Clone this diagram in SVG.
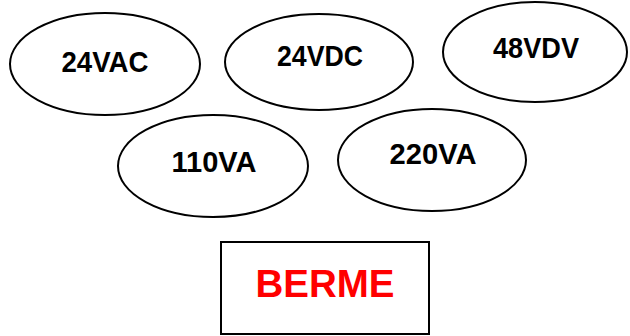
<svg xmlns="http://www.w3.org/2000/svg" width="630" height="336" viewBox="0 0 630 336">
<style>
.n{fill:#fff;stroke:#000;stroke-width:2}
.t{font-family:"Liberation Sans",Arial,sans-serif;font-weight:bold;font-size:30px;fill:#000;text-anchor:middle}
.r{font-family:"Liberation Sans",Arial,sans-serif;font-weight:bold;font-size:38px;fill:#f00;text-anchor:middle}
</style>
<rect width="630" height="336" fill="#fff"/>
<g id="n24vac"><ellipse class="n" cx="105" cy="64" rx="95" ry="51"/><text class="t" x="105" y="72" textLength="87" lengthAdjust="spacingAndGlyphs">24VAC</text></g>
<g id="n24vdc"><ellipse class="n" cx="319" cy="62" rx="94" ry="48"/><text class="t" x="320" y="66" textLength="86" lengthAdjust="spacingAndGlyphs">24VDC</text></g>
<g id="n48vdv"><ellipse class="n" cx="535" cy="52" rx="92" ry="50"/><text class="t" x="536" y="58" textLength="86" lengthAdjust="spacingAndGlyphs">48VDV</text></g>
<g id="n110va"><ellipse class="n" cx="213" cy="166" rx="95" ry="51"/><text class="t" x="214" y="172" textLength="85" lengthAdjust="spacingAndGlyphs">110VA</text></g>
<g id="n220va"><ellipse class="n" cx="432" cy="160" rx="94" ry="51"/><text class="t" x="433" y="164" textLength="87" lengthAdjust="spacingAndGlyphs">220VA</text></g>
<g id="berme"><rect class="n" x="221" y="242" width="208" height="92"/><text class="r" x="325" y="297" textLength="139" lengthAdjust="spacingAndGlyphs">BERME</text></g>
<g id="connectors"/>
</svg>
